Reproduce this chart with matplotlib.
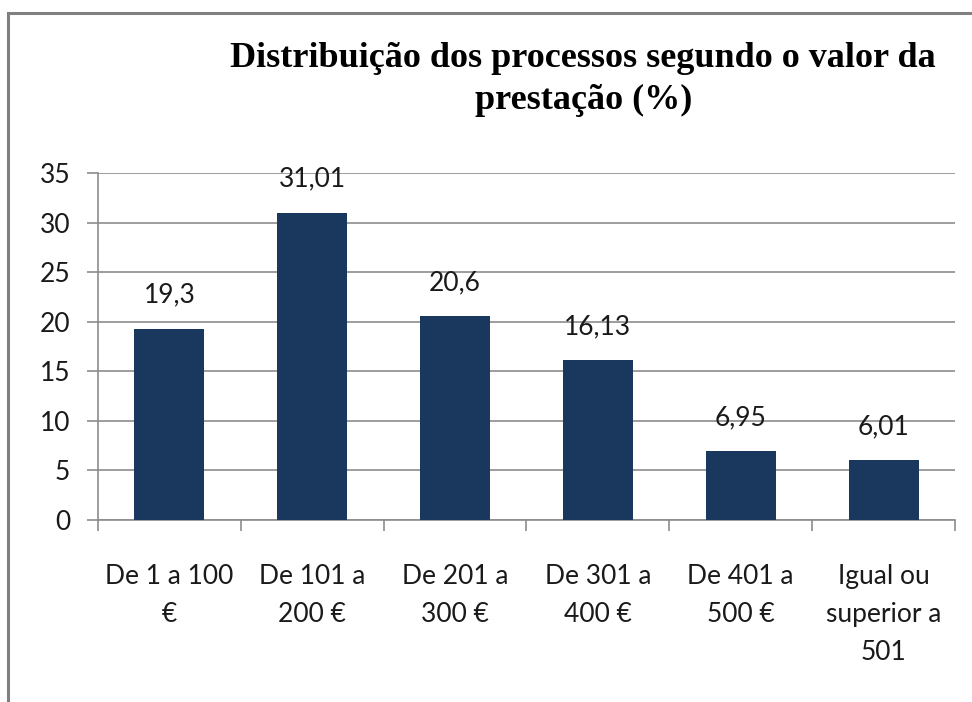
import matplotlib.pyplot as plt
from matplotlib.lines import Line2D

categories = ["De 1 a 100\n€", "De 101 a\n200 €", "De 201 a\n300 €",
              "De 301 a\n400 €", "De 401 a\n500 €", "Igual ou\nsuperior a\n501"]
values = [19.3, 31.01, 20.6, 16.13, 6.95, 6.01]
yticks = [0, 5, 10, 15, 20, 25, 30, 35]

bar_color = "#1a375e"
grid_color = "#8c8c8c"
text_color = "#1a1a1a"

fig = plt.figure(figsize=(9.72, 7.02), dpi=100)
ax = fig.add_axes([0.1008, 0.2593, 0.8817, 0.4943])

x = list(range(len(values)))
ax.bar(x, values, width=0.49, color=bar_color, zorder=3)

# data labels with comma decimals
for xi, v in zip(x, values):
    ax.annotate(str(v).replace(".", ","), (xi, v), xytext=(0, 15),
                textcoords="offset points", ha="center", va="bottom",
                fontsize=19, family="Lato", color=text_color)

ax.set_xlim(-0.5, len(values) - 0.5)
ax.set_ylim(0, 35)
ax.set_yticks(yticks)
ax.set_yticklabels([str(t) for t in yticks], fontsize=19, family="Lato", color=text_color)
ax.yaxis.grid(True, color=grid_color, linewidth=1.2, zorder=0)

# x ticks at category boundaries, labels at centres
ax.set_xticks([i - 0.5 for i in range(len(values) + 1)])
ax.set_xticklabels([])
ax.set_xticks(x, minor=True)
ax.set_xticklabels(categories, minor=True, fontsize=19, family="Lato",
                   color=text_color, linespacing=1.65)
ax.tick_params(axis="x", which="minor", length=0, pad=32)
ax.tick_params(axis="x", which="major", length=8, color=grid_color, width=1.2)
ax.tick_params(axis="y", length=8, color=grid_color, width=1.2, pad=12)

for side in ["top", "right"]:
    ax.spines[side].set_visible(False)
for side in ["left", "bottom"]:
    ax.spines[side].set_color(grid_color)
    ax.spines[side].set_linewidth(1.2)

fig.text(0.6, 0.94, "Distribuição dos processos segundo o valor da\nprestação (%)",
         ha="center", va="top", fontsize=26, fontweight="bold",
         family="Liberation Serif", linespacing=1.35)

# chart border (left and top edges visible)
fig.add_artist(Line2D([8 / 972, 8 / 972], [0, 1 - 13 / 702], color="#808080", linewidth=2.2))
fig.add_artist(Line2D([8 / 972, 1], [1 - 13 / 702, 1 - 13 / 702], color="#808080", linewidth=2.2))

fig.savefig("out.png", dpi=100)
